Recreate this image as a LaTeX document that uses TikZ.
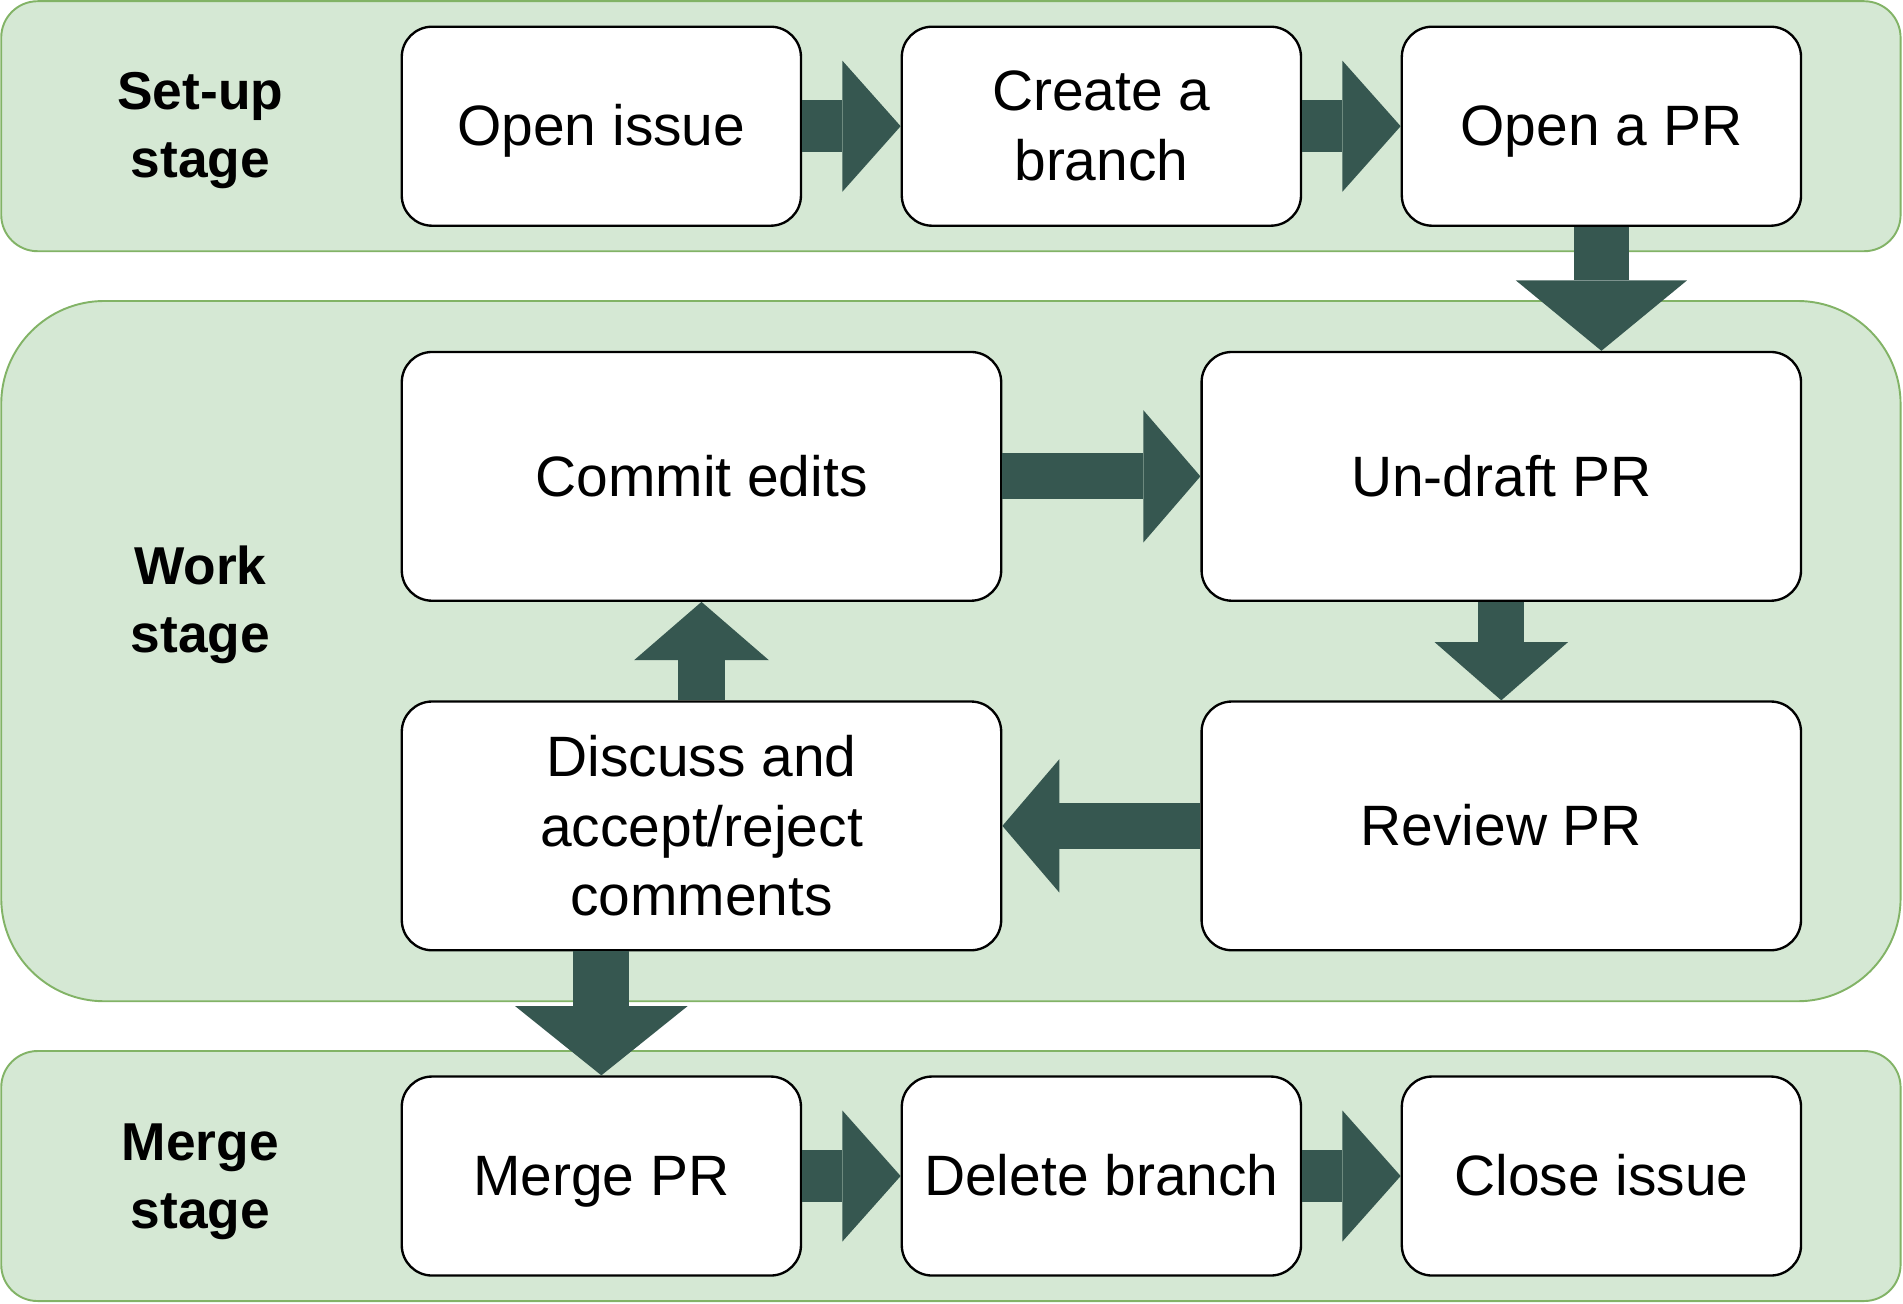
\documentclass[tikz,border=0pt]{standalone}
\usepackage{fontspec}
\setmainfont{Liberation Sans}
\usetikzlibrary{arrows.meta}
\definecolor{stagefill}{HTML}{D5E8D4}
\definecolor{stageline}{HTML}{82B366}
\definecolor{flowgreen}{RGB}{54,87,80}
\tikzset{
  stagebox/.style={draw=stageline,fill=stagefill,line width=0.9pt},
  stepbox/.style={draw,fill=white,line width=1.1pt,rounded corners=0.5cm,align=center,
    inner sep=0pt,font=\fontsize{26.7pt}{32.7pt}\selectfont},
  oneline/.style={text height=0.85cm,text depth=0.2cm},
  stagelabel/.style={align=center,font=\bfseries\fontsize{25pt}{31.9pt}\selectfont},
  flow/.style n args={3}{draw=flowgreen,line width=#1,
    -{Triangle[length=#2,width=#3,line width=0pt]}}
}
\begin{document}
\begin{tikzpicture}[x=0.02cm,y=-0.02cm]
\useasboundingbox (0,0) rectangle (1568,1074);
% stages
\draw[stagebox,rounded corners=0.6cm] (1,1) rectangle (1566,207);
\draw[stagebox,rounded corners=1.7cm] (1,248) rectangle (1566,825);
\draw[stagebox,rounded corners=0.6cm] (1,866) rectangle (1566,1072);
\node[stagelabel] (setup) at (165,107.5) {Set-up\\stage};
\node[stagelabel] (work) at (165,498.5) {Work\\stage};
\node[stagelabel] (merge) at (165,973.5) {Merge\\stage};
% set-up steps
\node[stepbox,oneline,minimum width=6.58cm,minimum height=3.28cm] (openissue) at (495.5,104) {Open issue};
\node[stepbox,minimum width=6.58cm,minimum height=3.28cm] (branch) at (907.5,104) {Create a\\branch};
\node[stepbox,oneline,minimum width=6.58cm,minimum height=3.28cm] (openpr) at (1319.5,104) {Open a PR};
% work steps
\node[stepbox,oneline,minimum width=9.88cm,minimum height=4.1cm] (commit) at (578,392.5) {Commit edits};
\node[stepbox,oneline,minimum width=9.88cm,minimum height=4.1cm] (undraft) at (1237,392.5) {Un-draft PR};
\node[stepbox,minimum width=9.88cm,minimum height=4.1cm] (discuss) at (578,680.5) {Discuss and\\accept/reject\\comments};
\node[stepbox,oneline,minimum width=9.88cm,minimum height=4.1cm] (review) at (1237,680.5) {Review PR};
% merge steps
\node[stepbox,oneline,minimum width=6.58cm,minimum height=3.28cm] (mergepr) at (495.5,969) {Merge PR};
\node[stepbox,oneline,minimum width=6.58cm,minimum height=3.28cm] (delbranch) at (907.5,969) {Delete branch};
\node[stepbox,oneline,minimum width=6.58cm,minimum height=3.28cm] (closeissue) at (1319.5,969) {Close issue};
% arrows
\draw[flow={0.86cm}{0.96cm}{2.16cm}] (openissue.east) -- (branch.west);
\draw[flow={0.86cm}{0.96cm}{2.16cm}] (branch.east) -- (openpr.west);
\draw[flow={0.92cm}{1.16cm}{2.82cm}] (openpr.south) -- (openpr.south |- undraft.north);
\draw[flow={0.76cm}{0.94cm}{2.18cm}] (commit.east) -- (undraft.west);
\draw[flow={0.76cm}{0.96cm}{2.2cm}] (undraft.south) -- (review.north);
\draw[flow={0.76cm}{0.94cm}{2.2cm}] (review.west) -- (discuss.east);
\draw[flow={0.76cm}{0.96cm}{2.22cm}] (discuss.north) -- (commit.south);
\draw[flow={0.92cm}{1.14cm}{2.84cm}] (mergepr.north |- discuss.south) -- (mergepr.north);
\draw[flow={0.86cm}{0.96cm}{2.16cm}] (mergepr.east) -- (delbranch.west);
\draw[flow={0.86cm}{0.96cm}{2.16cm}] (delbranch.east) -- (closeissue.west);
\end{tikzpicture}
\end{document}
